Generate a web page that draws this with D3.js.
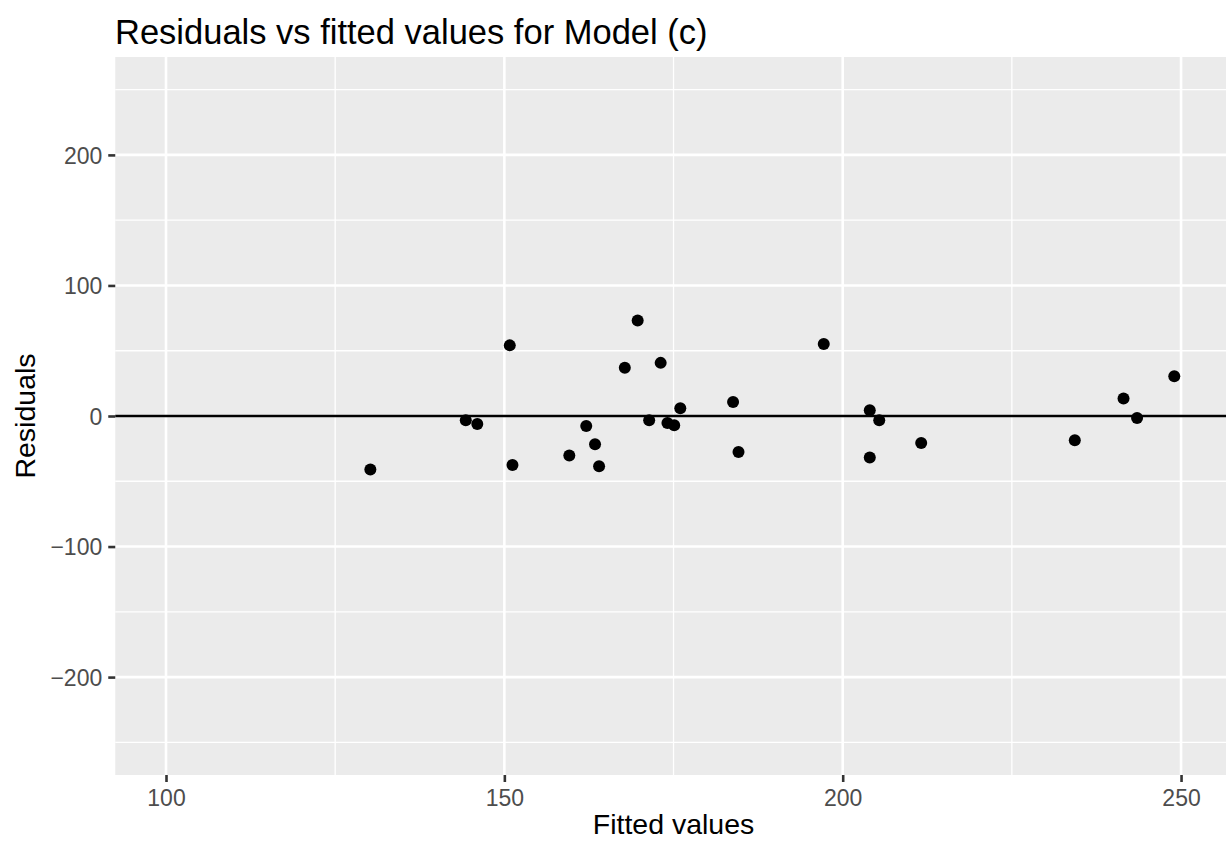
<!DOCTYPE html>
<html>
<head>
<meta charset="utf-8">
<script src="https://cdn.jsdelivr.net/npm/d3@7"></script>
<style>
  html, body { margin: 0; padding: 0; background: #fff; }
  svg { display: block; font-family: "Liberation Sans", Arial, Helvetica, sans-serif; }
</style>
</head>
<body>
<div id="chart"></div>
<script>
// Data
const fittedValues = [130.2, 144.3, 146.0, 150.8, 151.2, 159.6, 162.1, 163.4, 164.0, 167.8,
  169.7, 171.4, 173.1, 174.1, 175.1, 176.0, 183.8, 184.6, 197.2, 204.0,
  205.4, 211.6, 204.0, 234.3, 241.5, 243.5, 249.0];
const residuals = [-41.0, -3.2, -6.1, 54.1, -37.5, -30.3, -7.6, -21.6, -38.5, 36.9,
  73.2, -3.2, 40.7, -5.3, -7.1, 6.0, 10.8, -27.5, 55.1, 4.4,
  -3.2, -20.6, -31.8, -18.6, 13.4, -1.5, 30.5];
const xMajorTicks = [100, 150, 200, 250];
const xMinorTicks = [125, 175, 225];
const yMajorTicks = [-200, -100, 0, 100, 200];
const yMinorTicks = [-250, -150, -50, 50, 150, 250];
const xDomain = [92.5, 257.5];
const yDomain = [-275, 275];
const titleText = "Residuals vs fitted values for Model (c)";
const xLabel = "Fitted values";
const yLabel = "Residuals";

const W = 1226, H = 841;
const panel = { left: 115.25, right: 1231.8, top: 57, bottom: 775 };

const svg = d3.select("#chart").append("svg").attr("width", W).attr("height", H);

const x = d3.scaleLinear().domain(xDomain).range([panel.left, panel.right]);
const y = d3.scaleLinear().domain(yDomain).range([panel.bottom, panel.top]);

// panel background
svg.append("rect")
  .attr("x", panel.left).attr("y", panel.top)
  .attr("width", panel.right - panel.left).attr("height", panel.bottom - panel.top)
  .attr("fill", "#EBEBEB");

const grid = svg.append("g");
// minor grid
grid.selectAll(".ymin").data(yMinorTicks).enter().append("line")
  .attr("x1", panel.left).attr("x2", panel.right)
  .attr("y1", d => y(d)).attr("y2", d => y(d))
  .attr("stroke", "#fff").attr("stroke-width", 1.3);
grid.selectAll(".xmin").data(xMinorTicks).enter().append("line")
  .attr("y1", panel.top).attr("y2", panel.bottom)
  .attr("x1", d => x(d)).attr("x2", d => x(d))
  .attr("stroke", "#fff").attr("stroke-width", 1.3);
// major grid
grid.selectAll(".ymaj").data(yMajorTicks).enter().append("line")
  .attr("x1", panel.left).attr("x2", panel.right)
  .attr("y1", d => y(d)).attr("y2", d => y(d))
  .attr("stroke", "#fff").attr("stroke-width", 2.6);
grid.selectAll(".xmaj").data(xMajorTicks).enter().append("line")
  .attr("y1", panel.top).attr("y2", panel.bottom)
  .attr("x1", d => x(d)).attr("x2", d => x(d))
  .attr("stroke", "#fff").attr("stroke-width", 2.6);

// zero line
svg.append("line")
  .attr("x1", panel.left).attr("x2", panel.right)
  .attr("y1", y(0)).attr("y2", y(0))
  .attr("stroke", "#000").attr("stroke-width", 2.6);

// points
svg.append("g").selectAll("circle")
  .data(fittedValues.map((v, i) => [v, residuals[i]]))
  .enter().append("circle")
  .attr("cx", d => x(d[0])).attr("cy", d => y(d[1]))
  .attr("r", 6).attr("fill", "#000");

// axes
const fmt = d => (d < 0 ? "\u2212" + Math.abs(d) : String(d));
const xAxis = d3.axisBottom(x).tickValues(xMajorTicks).tickSize(7).tickPadding(5).tickFormat(fmt);
const yAxis = d3.axisLeft(y).tickValues(yMajorTicks).tickSize(7).tickPadding(5).tickFormat(fmt);

const gx = svg.append("g").attr("transform", `translate(0,${panel.bottom})`).call(xAxis);
const gy = svg.append("g").attr("transform", `translate(${panel.left},0)`).call(yAxis);
[gx, gy].forEach(g => {
  g.select(".domain").remove();
  g.selectAll(".tick line").attr("stroke", "#333").attr("stroke-width", 2.6);
  g.selectAll(".tick text").attr("fill", "#4D4D4D").style("font-size", "23px")
    .style("font-family", "'Liberation Sans', Arial, sans-serif");
});
gx.selectAll(".tick text").attr("dy", null).attr("y", 31);
gy.selectAll(".tick text").attr("dy", "0.36em").attr("x", -13);

// titles
svg.append("text")
  .attr("x", 115).attr("y", 43.5)
  .attr("fill", "#000").style("font-size", "34.5px")
  .text(titleText);

svg.append("text")
  .attr("x", (panel.left + panel.right) / 2).attr("y", 834)
  .attr("text-anchor", "middle")
  .attr("fill", "#000").style("font-size", "28.5px")
  .text(xLabel);

svg.append("text")
  .attr("transform", `translate(35,${(panel.top + panel.bottom) / 2}) rotate(-90)`)
  .attr("text-anchor", "middle")
  .attr("fill", "#000").style("font-size", "28.5px")
  .text(yLabel);
</script>
</body>
</html>
